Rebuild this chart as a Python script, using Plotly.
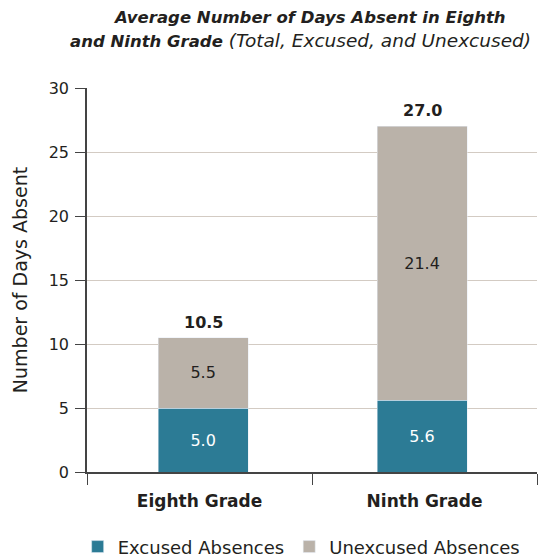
import plotly.graph_objects as go

categories = ["Eighth Grade", "Ninth Grade"]
excused = [5.0, 5.6]
unexcused = [5.5, 21.4]
totals = [10.5, 27.0]
y_ticks = [0, 5, 10, 15, 20, 25, 30]

FONT = "DejaVu Sans"
TEAL = "#2c7b95"
TAUPE = "#bab2a9"
DARK = "#231f20"

BAR_W = 0.4
BAR_OFF = [-0.184, -0.211]      # bar start relative to category centre
LABEL_SHIFT = [3.5, -2.5]       # px, keeps total labels centred on bars

fig = go.Figure()
fig.add_trace(go.Bar(
    name="Excused Absences", x=categories, y=excused, marker_color=TEAL,
    width=BAR_W, offset=BAR_OFF, texttemplate="%{y:.1f}", textposition="inside",
    insidetextanchor="middle", textfont=dict(color="white", size=16, family=FONT),
))
fig.add_trace(go.Bar(
    name="Unexcused Absences", x=categories, y=unexcused, marker_color=TAUPE,
    width=BAR_W, offset=BAR_OFF, texttemplate="%{y:.1f}", textposition="inside",
    insidetextanchor="middle", textfont=dict(color=DARK, size=16, family=FONT),
))

for c, t, s in zip(categories, totals, LABEL_SHIFT):
    fig.add_annotation(x=c, y=t, text=f"<b>{t:.1f}</b>", showarrow=False,
                       yanchor="bottom", yshift=4, xshift=s,
                       font=dict(size=16, color=DARK, family=FONT))

# title: two lines, each centred where the reference places it
fig.add_annotation(
    xref="paper", yref="paper", x=(309 - 87) / 450, y=(472 - 17) / 384, xanchor="center", yanchor="middle",
    text="<b><i>Average Number of Days Absent in Eighth</i></b>",
    showarrow=False, font=dict(size=16.5, color=DARK, family=FONT),
)
fig.add_annotation(
    xref="paper", yref="paper", x=(300 - 87) / 450, y=(472 - 40) / 384, xanchor="center", yanchor="middle",
    text="<b><i>and Ninth Grade</i></b><span style='font-size:18.5px'><i> (Total, Excused, and Unexcused)</i></span>",
    showarrow=False, font=dict(size=16.5, color=DARK, family=FONT),
)

fig.update_layout(
    width=543, height=550, barmode="stack",
    margin=dict(l=79, r=14, t=80, b=86, autoexpand=False),
    paper_bgcolor="white", plot_bgcolor="white",
    font=dict(family=FONT, color=DARK, size=16),
    showlegend=True,
    legend=dict(orientation="h", x=0.477, xanchor="center", y=-0.195, yanchor="middle",
                font=dict(size=18, color=DARK, family=FONT), traceorder="normal",
                itemclick=False),
    xaxis=dict(type="category", tickson="boundaries", ticks="outside", ticklen=11,
               tickcolor="#444", showline=True, linecolor="#444", linewidth=1.5,
               range=[-0.5, 1.5], showgrid=False, automargin=False,
               ticklabelstandoff=13,
               tickfont=dict(size=17, color=DARK, family=FONT),
               tickvals=categories, ticktext=[f"<b>{c}</b>" for c in categories]),
    yaxis=dict(range=[0, 30], tickvals=y_ticks, ticks="outside", ticklen=10,
               tickcolor="#444", showline=True, linecolor="#444", linewidth=1.5,
               gridcolor="#d3cbc3", gridwidth=1, zeroline=False, automargin=False,
               ticklabelstandoff=3,
               tickfont=dict(size=16, color=DARK, family=FONT),
               title=dict(text="Number of Days Absent", font=dict(size=19, color=DARK, family=FONT),
                          standoff=16)),
)

fig.write_html("out.html")
